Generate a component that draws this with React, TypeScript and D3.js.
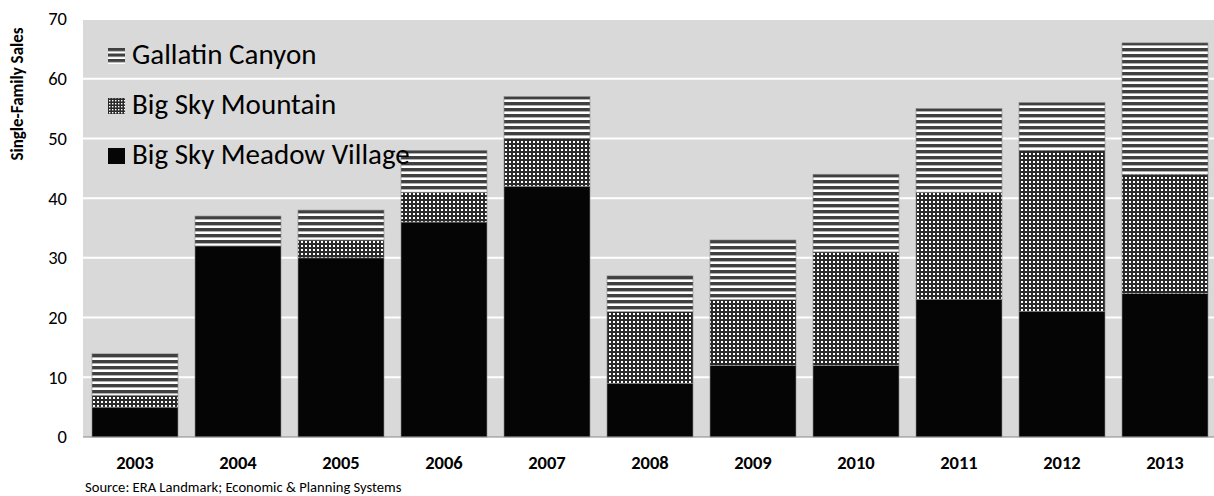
import React from "react";
import * as d3 from "d3";

const years = ["2003","2004","2005","2006","2007","2008","2009","2010","2011","2012","2013"];
const meadowVillage = [5, 32, 30, 36, 42, 9, 12, 12, 23, 21, 24];
const bigSkyMountain = [2, 0, 3, 5, 8, 12, 11, 19, 18, 27, 20];
const gallatinCanyon = [7, 5, 5, 7, 7, 6, 10, 13, 14, 8, 22];
const yTicks = [0, 10, 20, 30, 40, 50, 60, 70];
const legendNames = ["Gallatin Canyon", "Big Sky Mountain", "Big Sky Meadow Village"];

const W = 1214, H = 496;
const left = 83, right = 1214, top = 19, bottom = 437;
const font = "Carlito, Calibri, Lato, 'Open Sans', sans-serif";

export default function App() {
  const x = d3.scaleBand<string>().domain(years).range([83.5, 1216.5]).paddingInner(0.165).paddingOuter(0.0825);
  const y = d3.scaleLinear().domain([0, 70]).range([bottom, top]);
  const rows = years.map((yr, i) => ({ year: yr, meadow: meadowVillage[i], mountain: bigSkyMountain[i], gallatin: gallatinCanyon[i] }));
  const stack = d3.stack<any>().keys(["meadow", "mountain", "gallatin"])(rows);
  const fills = ["#050505", "url(#dots)", "url(#stripes)"];
  const legendFills = ["url(#stripesL)", "url(#dotsL)", "#050505"];
  const legendBase = [64, 114, 164];

  return (
    <svg width={W} height={H} style={{ display: "block", position: "absolute", left: 0, top: 0 }}>
      <defs>
        <pattern id="stripes" patternUnits="userSpaceOnUse" width={8} height={6}>
          <rect width={8} height={6} fill="#ffffff" />
          <rect width={8} height={3.4} fill="#404040" />
        </pattern>
        <pattern id="dots" patternUnits="userSpaceOnUse" width={4} height={4}>
          <rect width={4} height={4} fill="#2a2a2a" />
          <rect x={1} y={1} width={2} height={2} fill="#ffffff" />
        </pattern>
        <pattern id="stripesL" patternUnits="userSpaceOnUse" width={8} height={5.5} y={48}>
          <rect width={8} height={5.5} fill="#ffffff" />
          <rect width={8} height={3.2} fill="#404040" />
        </pattern>
        <pattern id="dotsL" patternUnits="userSpaceOnUse" width={3} height={3}>
          <rect width={3} height={3} fill="#2a2a2a" />
          <rect x={1} y={1} width={1.4} height={1.4} fill="#ffffff" />
        </pattern>
      </defs>
      <rect x={left} y={top} width={right - left} height={bottom - top} fill="#d9d9d9" />
      {yTicks.filter(t => t > 0).map(t => (
        <line key={t} x1={left} x2={right} y1={y(t)} y2={y(t)} stroke="#ffffff" strokeWidth={2} />
      ))}
      {stack.map((s, si) => (
        <g key={si}>
          {s.map((d, i) => d[1] - d[0] > 0 ? (
            <rect key={i} x={x(years[i])!} width={x.bandwidth()} y={y(d[1])} height={y(d[0]) - y(d[1])}
              fill={fills[si]} stroke="#8a8a8a" strokeWidth={0.6} />
          ) : null)}
        </g>
      ))}
      <line x1={left} x2={right} y1={bottom} y2={bottom} stroke="#888" strokeWidth={1.2} />
      {yTicks.map(t => (
        <text key={t} x={67} y={y(t)} dy="0.35em" textAnchor="end" fontFamily={font} fontSize={18.5} fill="#000">{t}</text>
      ))}
      {years.map(yr => (
        <text key={yr} x={x(yr)! + x.bandwidth() / 2} y={469} textAnchor="middle" fontFamily={font} fontSize={18.5} fontWeight="bold" fill="#000">{yr}</text>
      ))}
      <text transform="translate(23,94) rotate(-90)" textAnchor="middle" fontFamily={font} fontSize={17} fontWeight="bold" fill="#000">Single-Family Sales</text>
      <text x={85} y={492} fontFamily={font} fontSize={14.6} fill="#000">Source: ERA Landmark; Economic &amp; Planning Systems</text>
      {legendNames.map((n, i) => {
        const base = legendBase[i];
        return (
          <g key={n}>
            <rect x={108} y={base - 16} width={17} height={16} fill={legendFills[i]} />
            <text x={132} y={base} fontFamily={font} fontSize={29} fill="#000">{n}</text>
          </g>
        );
      })}
    </svg>
  );
}
